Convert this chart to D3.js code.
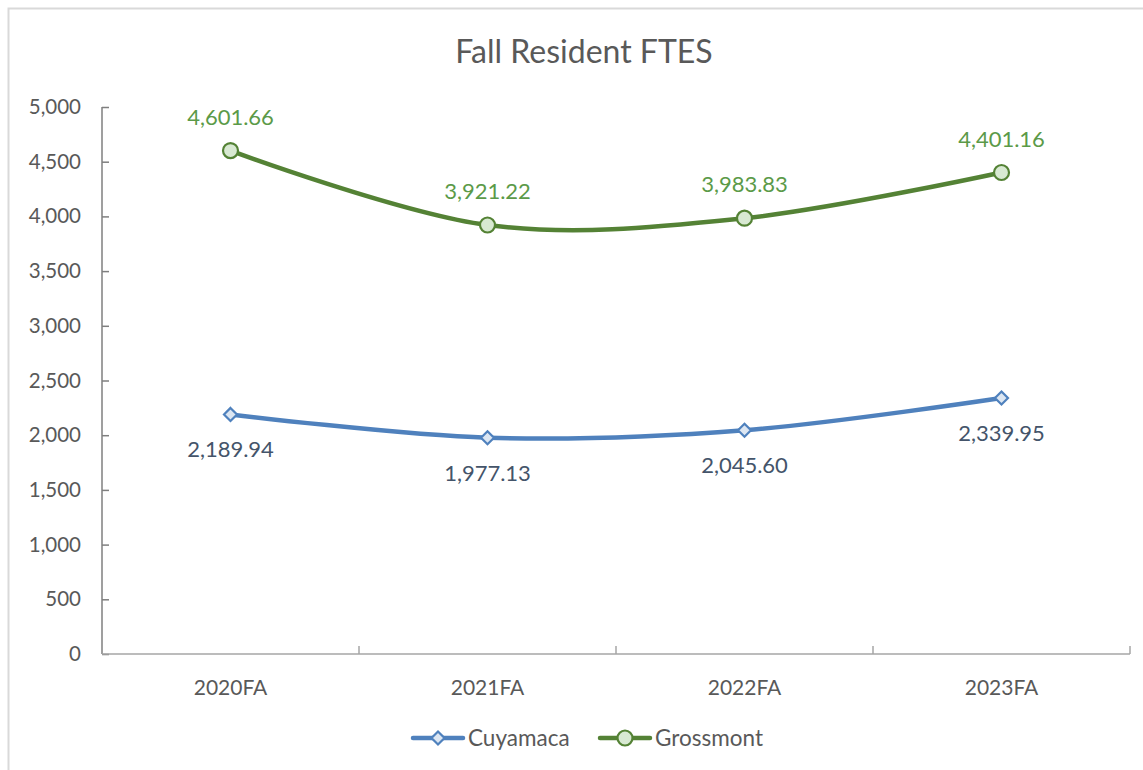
<!DOCTYPE html>
<html>
<head>
<meta charset="utf-8">
<title>Fall Resident FTES</title>
<script src="https://d3js.org/d3.v7.min.js"></script>
<style>
body { margin: 0; background: #fff; }
svg text { font-family: Lato, "Open Sans", sans-serif; }
</style>
</head>
<body>
<svg id="chart" width="1143" height="770"></svg>
<script>
// chart data
var terms = ["2020FA", "2021FA", "2022FA", "2023FA"];
var cuyamaca = [2189.94, 1977.13, 2045.60, 2339.95];
var grossmont = [4601.66, 3921.22, 3983.83, 4401.16];
var yTicks = [0, 500, 1000, 1500, 2000, 2500, 3000, 3500, 4000, 4500, 5000];

var series = [
  { name: "Cuyamaca", values: cuyamaca, color: "#4f81bd", fill: "#dce6f2", label: "#44546a", marker: "diamond", above: false },
  { name: "Grossmont", values: grossmont, color: "#548235", fill: "#d8e9d2", label: "#5b9a48", marker: "circle", above: true }
];

var svg = d3.select("#chart");
var plotL = 102, plotR = 1130, plotT = 107, plotB = 654;

// chart frame
svg.append("rect")
  .attr("x", 8.5).attr("y", 8.5)
  .attr("width", 1150).attr("height", 770)
  .attr("fill", "none").attr("stroke", "#d9d9d9").attr("stroke-width", 2);

svg.append("text")
  .attr("x", 584).attr("y", 63)
  .attr("text-anchor", "middle")
  .attr("font-size", 32)
  .attr("fill", "#595959")
  .text("Fall Resident FTES");

var x = d3.scaleBand().domain(terms).range([plotL, plotR]);
var y = d3.scaleLinear().domain([0, 5000]).range([plotB, plotT]);
var fmt = d3.format(",.2f");

// y axis, ticks inside
var yAxis = svg.append("g")
  .attr("transform", "translate(" + plotL + ",0)")
  .call(d3.axisRight(y).tickValues(yTicks).tickSize(7).tickFormat(d3.format(",")));
yAxis.select(".domain").attr("stroke", "#7f7f7f").attr("stroke-width", 1.5).attr("d", "M0," + plotT + "V" + plotB);
yAxis.selectAll(".tick line").attr("stroke", "#7f7f7f").attr("stroke-width", 1.5);
yAxis.selectAll(".tick text")
  .attr("x", -21).attr("text-anchor", "end")
  .attr("font-size", 20.5).attr("fill", "#595959");

// x axis, tick marks between categories
var xAxis = svg.append("g")
  .attr("transform", "translate(0," + plotB + ")")
  .call(d3.axisBottom(x).tickSize(0));
xAxis.select(".domain").attr("stroke", "#a6a6a6").attr("stroke-width", 1.5).attr("d", "M" + plotL + ",0H" + plotR);
xAxis.selectAll(".tick text").attr("y", 26).attr("font-size", 21).attr("fill", "#595959");
var bounds = terms.map(function(t) { return x(t); }).concat([plotR]);
xAxis.selectAll(".sep").data(bounds.slice(1)).enter().append("line")
  .attr("x1", function(d) { return d; }).attr("x2", function(d) { return d; })
  .attr("y1", 0).attr("y2", -8)
  .attr("stroke", "#a6a6a6").attr("stroke-width", 1.5);

var cx = function(i) { return x(terms[i]) + x.bandwidth() / 2; };
var line = d3.line()
  .x(function(d, i) { return cx(i); })
  .y(function(d) { return y(d); })
  .curve(d3.curveCardinal.tension(0));

function drawMarker(g, s, px, py) {
  if (s.marker === "circle") {
    g.append("circle").attr("cx", px).attr("cy", py).attr("r", 7.5)
      .attr("fill", s.fill).attr("stroke", s.color).attr("stroke-width", 2.2);
  } else {
    g.append("path")
      .attr("d", "M" + px + "," + (py - 6.5) + "L" + (px + 6.5) + "," + py + "L" + px + "," + (py + 6.5) + "L" + (px - 6.5) + "," + py + "Z")
      .attr("fill", s.fill).attr("stroke", s.color).attr("stroke-width", 2.2);
  }
}

series.forEach(function(s) {
  var g = svg.append("g");
  g.append("path").datum(s.values)
    .attr("d", line)
    .attr("fill", "none").attr("stroke", s.color).attr("stroke-width", 4.5)
    .attr("stroke-linecap", "round");
  s.values.forEach(function(v, i) {
    drawMarker(g, s, cx(i), y(v));
    g.append("text")
      .attr("x", cx(i))
      .attr("y", y(v) + (s.above ? -26 : 43))
      .attr("text-anchor", "middle")
      .attr("font-size", 22)
      .attr("fill", s.label)
      .text(fmt(v));
  });
});

// legend
var legendX = [411, 598];
series.forEach(function(s, i) {
  var g = svg.append("g");
  var lx = legendX[i], ly = 738;
  g.append("line").attr("x1", lx + 2).attr("x2", lx + 52).attr("y1", ly).attr("y2", ly)
    .attr("stroke", s.color).attr("stroke-width", 4.5).attr("stroke-linecap", "round");
  drawMarker(g, s, lx + 27, ly);
  g.append("text").attr("x", lx + 57).attr("y", ly + 8)
    .attr("font-size", 22.5).attr("fill", "#595959").text(s.name);
});
</script>
</body>
</html>
